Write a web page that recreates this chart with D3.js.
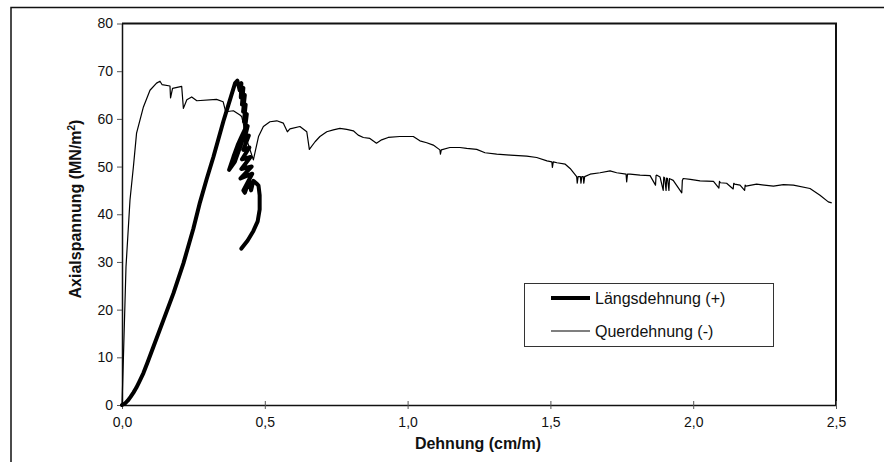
<!DOCTYPE html>
<html>
<head>
<meta charset="utf-8">
<script src="https://cdn.jsdelivr.net/npm/d3@7"></script>
<style>
  body { margin: 0; background: #fff; }
  svg { font-family: "Liberation Sans", Arial, sans-serif; }
</style>
</head>
<body>
<svg id="chart" width="884" height="462"></svg>
<script>
// Längsdehnung (+) - thick curve
const langX = [0, 0.01, 0.02, 0.03, 0.04, 0.05, 0.06, 0.075, 0.09, 0.11, 0.145, 0.18, 0.215, 0.25, 0.273, 0.297, 0.32, 0.355, 0.378, 0.396, 0.404,
  0.412, 0.418, 0.416, 0.425, 0.42, 0.43, 0.424, 0.433, 0.427, 0.437, 0.43, 0.438, 0.425, 0.41, 0.395, 0.375,
  0.39, 0.405, 0.42, 0.432, 0.44, 0.428, 0.444, 0.425, 0.446, 0.42, 0.45, 0.418, 0.454, 0.415, 0.456,
  0.425, 0.43, 0.446, 0.452, 0.46, 0.47, 0.478,
  0.482, 0.482, 0.475, 0.46, 0.44, 0.418];
const langY = [0, 0.3, 0.9, 1.7, 2.6, 3.6, 4.8, 6.7, 9, 12.2, 17.8, 23.4, 29.7, 37, 42.5, 47.5, 52, 59.5, 64, 67.5, 68,
  66, 67.5, 64.5, 66.5, 63, 65, 61.5, 63, 59.5, 61, 57.5, 58.5, 56, 53.5, 51, 49.3,
  52, 54.5, 56.5, 58, 58.5, 55.5, 56.5, 53.5, 54, 51.5, 52, 49.5, 50, 47.5, 48.5,
  45, 44.5, 47, 45, 47, 46.5, 46,
  44, 41, 38.5, 36.5, 34.5, 32.8];

// Querdehnung (-) - thin curve
const querX = [0, 0.005, 0.014, 0.028, 0.04, 0.051, 0.075, 0.098, 0.121, 0.133, 0.14, 0.168, 0.17, 0.177,
  0.209, 0.215, 0.227, 0.244, 0.262, 0.331, 0.354, 0.363, 0.39, 0.413, 0.419, 0.44, 0.46,
  0.478, 0.495, 0.518, 0.542, 0.565, 0.579, 0.588, 0.623, 0.647, 0.656, 0.676, 0.693, 0.717, 0.74,
  0.763, 0.787, 0.81, 0.827, 0.845, 0.868, 0.891, 0.909, 0.932, 0.973, 1.02, 1.043, 1.067, 1.09,
  1.113, 1.115, 1.118, 1.148, 1.183, 1.207, 1.242, 1.271, 1.312, 1.359, 1.417, 1.452, 1.488,
  1.505, 1.507, 1.51, 1.523, 1.552, 1.569, 1.592, 1.594, 1.597, 1.605, 1.607, 1.61, 1.615, 1.617, 1.62,
  1.639, 1.674, 1.709, 1.732, 1.765, 1.767, 1.77, 1.779, 1.814, 1.849, 1.868, 1.87, 1.873, 1.884,
  1.895, 1.897, 1.9, 1.905, 1.907, 1.91, 1.915, 1.917, 1.92, 1.93, 1.96, 1.962, 1.965, 1.99, 2.024,
  2.071, 2.09, 2.092, 2.095, 2.117, 2.14, 2.142, 2.145, 2.164, 2.18, 2.182, 2.185, 2.222, 2.281,
  2.316, 2.351, 2.409, 2.444, 2.473, 2.485, 2.5];
const querY = [0, 10, 29, 43, 50, 57, 62.5, 66, 67.5, 67.9, 67.2, 66.9, 64.4, 66.4,
  66.8, 62.2, 64, 64.6, 63.8, 64.1, 63.6, 61.5, 61.7, 60.8, 60.5, 55, 51.4,
  56.3, 58.4, 59.4, 59.6, 59.1, 57.3, 57.9, 58.4, 57.3, 53.6, 55.2, 56.3, 57.3, 57.7,
  58, 57.8, 57.5, 56.6, 56.1, 55.9, 54.9, 55.6, 56.1, 56.3, 56.3, 55.4, 55, 54.5,
  53.5, 52.6, 53.5, 54, 54, 53.8, 53.6, 52.9, 52.6, 52.4, 52.2, 51.9, 51.2,
  51, 49.8, 51, 50.8, 50.5, 49.6, 47.9, 46.5, 47.9, 47.9, 46.5, 47.9, 47.9, 46.5, 47.9,
  48.4, 48.7, 49.1, 48.7, 48.4, 46.8, 48.4, 48.4, 48.2, 48.1, 46.1, 48.1, 48.2,
  47.8, 45, 47.8, 47.6, 45, 47.6, 47.5, 45, 47.5, 47.4, 47.1, 44.5, 47.1, 47.5, 47.3,
  47, 46.9, 45.5, 46.9, 46.6, 46.5, 45.3, 46.5, 46.3, 46.1, 45, 46.1, 45.9, 46.3,
  45.9, 46.2, 46.1, 45.4, 44, 42.6, 42.4];

const xTicks = [0, 0.5, 1.0, 1.5, 2.0, 2.5];
const yTicks = [0, 10, 20, 30, 40, 50, 60, 70, 80];
const seriesNames = ['Längsdehnung (+)', 'Querdehnung (-)'];

const svg = d3.select('#chart');

// outer frame (only top & left edge visible)
svg.append('path')
  .attr('d', 'M11,462 L11,7.5 L884,7.5')
  .attr('fill', 'none').attr('stroke', '#111').attr('stroke-width', 1.5);

const xScale = d3.scaleLinear().domain([0, 2.5]).range([122, 836]);
const yScale = d3.scaleLinear().domain([0, 80]).range([405, 23.5]);

// plot border top/right
svg.append('path')
  .attr('d', `M${xScale(0)},${yScale(80)} L${xScale(2.5)},${yScale(80)} L${xScale(2.5)},${yScale(0)}`)
  .attr('fill', 'none').attr('stroke', '#111').attr('stroke-width', 2);

const fmt = d => d3.format('.1f')(d).replace('.', ',');

const xAxis = svg.append('g')
  .attr('transform', `translate(0,${yScale(0)})`)
  .call(d3.axisBottom(xScale).tickValues(xTicks).tickFormat(fmt).tickSizeInner(4).tickSizeOuter(0).tickPadding(8));
xAxis.selectAll('.tick line').attr('y1', -4).attr('stroke', '#555');
xAxis.select('.domain').attr('stroke', '#111').attr('stroke-width', 1.5);
xAxis.selectAll('text').attr('font-size', 14).attr('fill', '#111').attr('font-family', '"Liberation Sans", Arial, sans-serif');

const yAxis = svg.append('g')
  .attr('transform', `translate(${xScale(0)},0)`)
  .call(d3.axisLeft(yScale).tickValues(yTicks).tickSizeInner(5).tickSizeOuter(0).tickPadding(4));
yAxis.selectAll('.tick line').attr('stroke', '#555');
yAxis.select('.domain').attr('stroke', '#111').attr('stroke-width', 1.5);
yAxis.selectAll('text').attr('font-size', 14).attr('fill', '#111').attr('font-family', '"Liberation Sans", Arial, sans-serif');

const line = d3.line().x(d => xScale(d[0])).y(d => yScale(d[1]));

svg.append('path')
  .datum(querX.map((x, i) => [x, querY[i]]))
  .attr('d', line).attr('fill', 'none').attr('stroke', '#000')
  .attr('stroke-width', 1.2).attr('stroke-linejoin', 'round');

svg.append('path')
  .datum(langX.map((x, i) => [x, langY[i]]))
  .attr('d', line).attr('fill', 'none').attr('stroke', '#000')
  .attr('stroke-width', 4).attr('stroke-linejoin', 'round').attr('stroke-linecap', 'round');

// axis titles
svg.append('text')
  .attr('x', 478).attr('y', 449).attr('text-anchor', 'middle')
  .attr('font-size', 16).attr('font-weight', 'bold').attr('fill', '#111')
  .text('Dehnung (cm/m)');

const yt = svg.append('text')
  .attr('transform', 'translate(81,209) rotate(-90)').attr('text-anchor', 'middle')
  .attr('font-size', 16).attr('font-weight', 'bold').attr('fill', '#111');
yt.append('tspan').text('Axialspannung (MN/m');
yt.append('tspan').attr('font-size', 10).attr('dy', -6).text('2');
yt.append('tspan').attr('dy', 6).text(')');

// legend
const lg = svg.append('g');
lg.append('rect').attr('x', 524.5).attr('y', 283.5).attr('width', 249).attr('height', 63)
  .attr('fill', '#fff').attr('stroke', '#333').attr('stroke-width', 1);
const legendY = [298, 331];
seriesNames.forEach((name, i) => {
  lg.append('line').attr('x1', 551).attr('x2', 590).attr('y1', legendY[i]).attr('y2', legendY[i])
    .attr('stroke', '#000').attr('stroke-width', i === 0 ? 4 : 1.2);
  lg.append('text').attr('x', 595).attr('y', legendY[i] + 6).attr('font-size', 16).attr('fill', '#111')
    .text(name);
});
</script>
</body>
</html>
